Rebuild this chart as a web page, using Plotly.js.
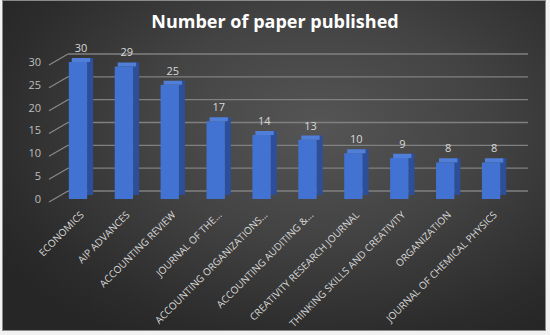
<!DOCTYPE html>
<html><head><meta charset="utf-8">
<script src="https://cdn.plot.ly/plotly-3.0.1.min.js"></script>
<style>
html,body{margin:0;padding:0;background:#f2f2f2;}
#wrap{position:relative;width:550px;height:335px;}
#bg{position:absolute;left:3px;top:1px;width:542px;height:329px;
 background:radial-gradient(ellipse 70% 75% at 58% 38%, #555555 0%, #434343 45%, #2c2c2c 85%, #262626 100%);
 outline:1px solid #8a8a8a;}
#chart{position:absolute;left:0;top:0;width:550px;height:335px;}
</style></head>
<body><div id="wrap"><div id="bg"></div><div id="chart"></div></div>
<script>
const categories = ["ECONOMICS","AIP ADVANCES","ACCOUNTING REVIEW","JOURNAL OF THE...",
  "ACCOUNTING ORGANIZATIONS...","ACCOUNTING AUDITING &...","CREATIVITY RESEARCH JOURNAL",
  "THINKING SKILLS AND CREATIVITY","ORGANIZATION","JOURNAL OF CHEMICAL PHYSICS"];
const papers = [30,29,25,17,14,13,10,9,8,8];
const yTicks = [0,5,10,15,20,25,30];

const W=550,H=335, L=40, R=20, T=45, B=136;
const pw = W-L-R, ph = H-T-B;
const depthY = 0.9; // 3D depth styling
const px = v => (v-L)/pw;
const step = 45.9, c0 = 78, xl = 45, xr = 530;
const yMax = 33, yDomTop = 150.7/ph;
const pyOf = (v, dpx) => (v/yMax)*yDomTop + dpx/ph;  // value -> paper y, plus pixel offset

const frontBars = {type:'bar', x:categories, y:papers, offset:-0.2, width:0.4,
  marker:{color:'#4273d2', line:{width:0}}, hoverinfo:'skip'};
const sideBars = {type:'bar', x:categories, y:papers, base:depthY, offset:0.2, width:0.13,
  marker:{color:'#2d4f9a', line:{width:0}}, hoverinfo:'skip'};
const topBars = {type:'bar', x:categories, y:papers.map(()=>depthY), base:papers, offset:-0.135, width:0.4,
  marker:{color:'#4f7fd8', line:{width:0}}, text:papers.map(String), textposition:'outside',
  textfont:{color:'#d9d9d9', size:11, family:'Open Sans'}, cliponaxis:false, hoverinfo:'skip'};

const gridShapes = yTicks.map(v=>({type:'line', layer:'below', xref:'paper', yref:'paper',
  x0:px(68), x1:px(528), y0:pyOf(v,8), y1:pyOf(v,8), line:{color:'#808080', width:1.4}}));
const diagShapes = yTicks.map(v=>({type:'line', layer:'below', xref:'paper', yref:'paper',
  x0:px(49), x1:px(68), y0:pyOf(v,-3), y1:pyOf(v,8), line:{color:'#8a8a8a', width:1.2}}));

const layout = {
  width:W, height:H, margin:{l:L,r:R,t:T,b:B},
  paper_bgcolor:'rgba(0,0,0,0)', plot_bgcolor:'rgba(0,0,0,0)',
  showlegend:false, barmode:'overlay',
  title:{text:'<b>Number of paper published</b>', font:{family:'Open Sans', size:18, color:'#ffffff'},
    x:0.5, xref:'container', xanchor:'center', y:1-22/H, yref:'container', yanchor:'middle'},
  xaxis:{type:'category', domain:[px(xl), px(xr)], range:[-(c0-xl)/step, 9+(xr-c0-9*step)/step], tickangle:-45,
    tickfont:{family:'Open Sans', size:10, color:'#d9d9d9'}, showgrid:false, zeroline:false,
    showline:false, ticks:'', ticklabelstandoff:7, ticklabelshift:3, fixedrange:true},
  yaxis:{domain:[0, yDomTop], range:[0,yMax], tickvals:yTicks, showgrid:false, zeroline:false,
    tickfont:{family:'Open Sans', size:11, color:'#bfbfbf'}, ticklabelstandoff:3, fixedrange:true},
  shapes:gridShapes.concat(diagShapes)
};
Plotly.newPlot('chart',[sideBars, frontBars, topBars], layout, {displayModeBar:false, staticPlot:true});
</script></body></html>
